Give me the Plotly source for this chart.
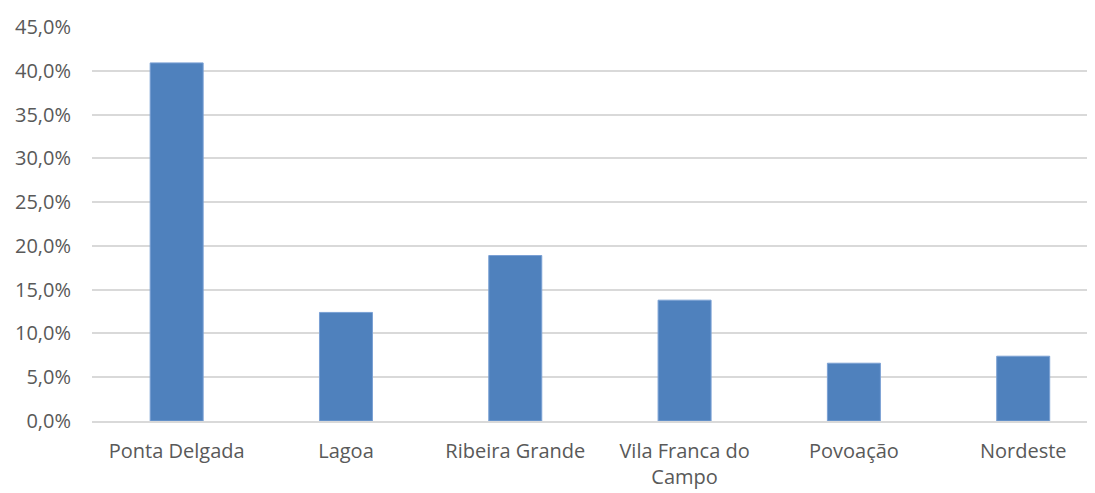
import plotly.graph_objects as go

categories = ["Ponta Delgada", "Lagoa", "Ribeira Grande", "Vila Franca do<br>Campo", "Povoação", "Nordeste"]
values = [0.409, 0.124, 0.189, 0.138, 0.066, 0.074]
y_ticks = [0, 0.05, 0.10, 0.15, 0.20, 0.25, 0.30, 0.35, 0.40, 0.45]

fig = go.Figure(go.Bar(
    x=categories, y=values,
    marker=dict(color="#4f81bd", line=dict(color="#7aa0d4", width=1)),
))

font = dict(family="Open Sans, Liberation Sans, sans-serif", size=20, color="#595959")

fig.update_layout(
    width=1087, height=485,
    margin=dict(l=84, r=0, t=19, b=72),
    paper_bgcolor="white", plot_bgcolor="white",
    bargap=0.687,
    separators=",.",
    font=font,
    showlegend=False,
)
fig.update_yaxes(
    range=[0, 0.45], tickvals=y_ticks, tickformat=".1%",
    showgrid=True, gridcolor="#d9d9d9", gridwidth=1.5,
    zeroline=False, showline=False, ticks="",
    ticklabelstandoff=20, tickfont=font,
)
fig.update_xaxes(
    range=[-0.5, 5.424],
    showline=True, linecolor="#d9d9d9", linewidth=1.5,
    ticks="", ticklabelstandoff=11, tickfont=font,
)

fig.write_html("out.html")
